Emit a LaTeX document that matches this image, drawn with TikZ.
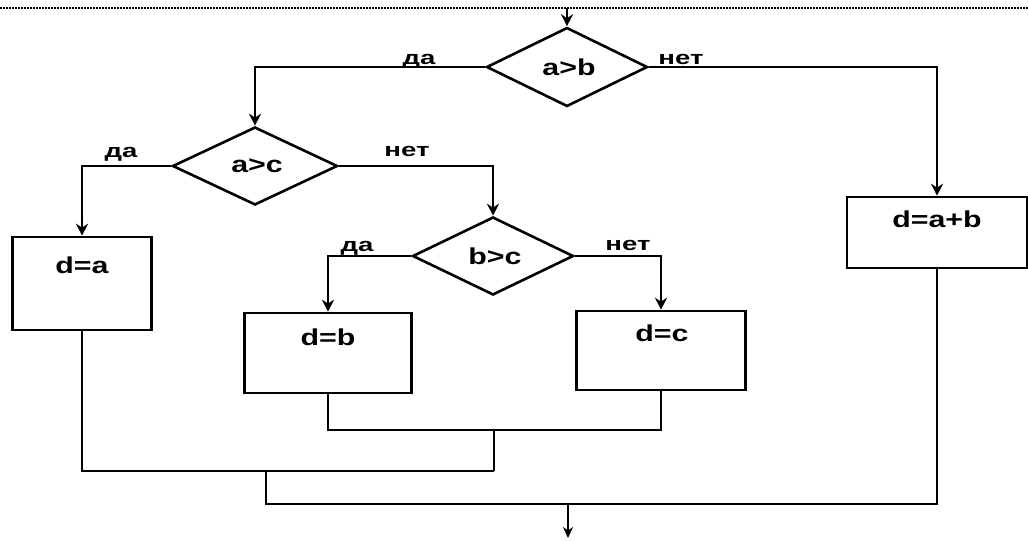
\documentclass[tikz,border=0pt]{standalone}
\usepackage{fontspec}
\setmainfont{Liberation Sans}
\usetikzlibrary{shapes.geometric,arrows.meta}
\newcommand\bigtxt[1]{\scalebox{1.32}[1]{\fontsize{23}{25}\selectfont\bfseries #1}}
\newcommand\smalltxt[1]{\scalebox{1.45}[1]{\fontsize{19}{21}\selectfont\bfseries #1}}
\begin{document}
\begin{tikzpicture}[x=1pt,y=-1pt,
  line width=2.6pt,
  flow/.style={draw, line width=2.6pt},
  cond/.style={draw, diamond, inner sep=0pt, line width=2.6pt},
  procbox/.style={draw, rectangle, inner sep=0pt, line width=2.6pt},
  txt/.style={inner sep=0pt},
  arr/.style={-{Stealth[length=12pt,width=12pt]}},
  dotline/.style={line width=1.5pt, dash pattern=on 1.5pt off 1.5pt}]
\useasboundingbox (0,0) rectangle (1028,541);
% dotted top line
\coordinate (dl) at (0,8);
\coordinate (dr) at (1028,8);
\draw[dotline] (dl) -- (dr);
% decisions
\node[cond, minimum width=161pt, minimum height=79pt] (ab) at (567,67) {};
\node[txt] (tab) at (569,67) {\bigtxt{a>b}};
\node[cond, minimum width=165pt, minimum height=78pt] (ac) at (255,166) {};
\node[txt] (tac) at (257,166) {\bigtxt{a>c}};
\node[cond, minimum width=161pt, minimum height=78pt] (bc) at (493,256) {};
\node[txt] (tbc) at (495,256) {\bigtxt{b>c}};
% process boxes
\node[procbox, minimum width=139pt, minimum height=93pt] (da) at (82,283.5) {};
\node[txt] (tda) at (82,265) {\bigtxt{d=a}};
\node[procbox, minimum width=167pt, minimum height=80pt] (db) at (328,353) {};
\node[txt] (tdb) at (328,337) {\bigtxt{d=b}};
\node[procbox, minimum width=169pt, minimum height=79pt] (dc) at (661,350.5) {};
\node[txt] (tdc) at (662,333) {\bigtxt{d=c}};
\node[procbox, minimum width=180pt, minimum height=71pt] (dab) at (937,232.5) {};
\node[txt] (tdab) at (937,219) {\bigtxt{d=a+b}};
% branch labels
\node[txt] (y1) at (419,61) {\smalltxt{да}};
\node[txt] (n1) at (681,59) {\smalltxt{нет}};
\node[txt] (y2) at (121,154) {\smalltxt{да}};
\node[txt] (n2) at (407,151) {\smalltxt{нет}};
\node[txt] (y3) at (357,248) {\smalltxt{да}};
\node[txt] (n3) at (628,245) {\smalltxt{нет}};
% entry
\coordinate (entry) at (567,8);
\draw[arr] (entry) -- (ab.north);
% branches
\draw[arr] (ab.west) -| (ac.north);
\draw[arr] (ab.east) -| (dab.north);
\draw[arr] (ac.west) -| (da.north);
\draw[arr] (ac.east) -| (bc.north);
\draw[arr] (bc.west) -| (db.north);
\draw[arr] (bc.east) -| (dc.north);
% merges
\coordinate (j1) at (494,430);
\coordinate (j1b) at (494,471);
\coordinate (j2) at (266,471);
\coordinate (j3) at (568,504);
\coordinate (exit) at (568,538);
\draw[flow] (db.south) |- (j1);
\draw[flow] (dc.south) |- (j1);
\draw[flow] (j1) -- (j1b);
\draw[flow] (da.south) |- (j1b);
\draw[flow] (j2) |- (j3);
\draw[flow] (dab.south) |- (j3);
\draw[-{Stealth[length=11pt,width=10pt]}, line width=2pt] (j3) -- (exit);
\end{tikzpicture}
\end{document}
